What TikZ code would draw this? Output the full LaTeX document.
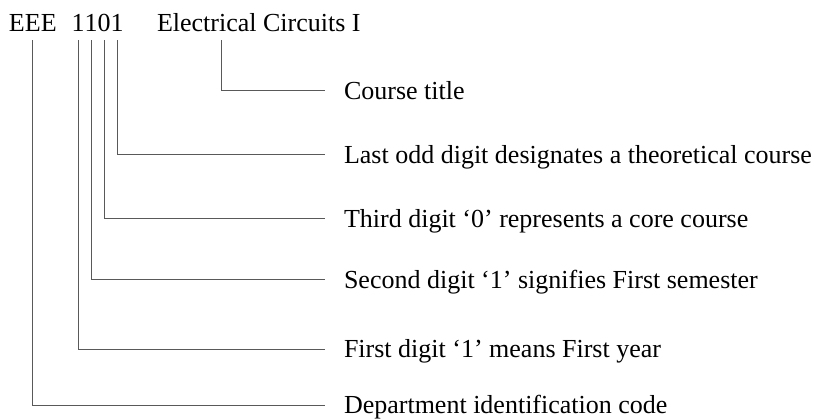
\documentclass[tikz,border=0pt]{standalone}
\usepackage{fontspec}
\setmainfont{Liberation Serif}
\begin{document}
\begin{tikzpicture}[x=1pt,y=-1pt,
  txt/.style={inner sep=0pt,outer sep=0pt,anchor=base west,font=\fontsize{26}{30}\selectfont},
  conn/.style={draw=black!65,line width=1pt}]
\useasboundingbox (0,0) rectangle (821,419);
% header
\node[txt] (code) at (9,31.5) {EEE};
\node[txt] (d1) at (71.5,31.5) {1};
\node[txt] (d2) at (d1.base east) {1};
\node[txt] (d3) at (d2.base east) {0};
\node[txt] (d4) at (d3.base east) {1};
\node[txt] (title) at (157,31.5) {Electrical Circuits I};
\coordinate (tt) at ([xshift=64pt]title.base west);
% labels
\node[txt] (lCourse) at (344,99.5) {Course title};
\node[txt] (lLast) at (344,163.5) {Last odd digit designates a theoretical course};
\node[txt] (lThird) at (344,227.5) {Third digit `0' represents a core course};
\node[txt] (lSecond) at (344,288.5) {Second digit `1' signifies First semester};
\node[txt] (lFirst) at (344,357.5) {First digit `1' means First year};
\node[txt] (lDept) at (344,413.5) {Department identification code};
% connectors
\draw[conn] ([yshift=-9pt]tt) |- ([xshift=-19pt,yshift=8.5pt]lCourse.base west);
\draw[conn] ([yshift=-9pt]d4.base) |- ([xshift=-19pt,yshift=8.5pt]lLast.base west);
\draw[conn] ([yshift=-9pt]d3.base) |- ([xshift=-19pt,yshift=8.5pt]lThird.base west);
\draw[conn] ([yshift=-9pt]d2.base) |- ([xshift=-19pt,yshift=8.5pt]lSecond.base west);
\draw[conn] ([yshift=-9pt]d1.base) |- ([xshift=-19pt,yshift=8.5pt]lFirst.base west);
\draw[conn] ([yshift=-9pt]code.base) |- ([xshift=-19pt,yshift=8.5pt]lDept.base west);
\end{tikzpicture}
\end{document}
